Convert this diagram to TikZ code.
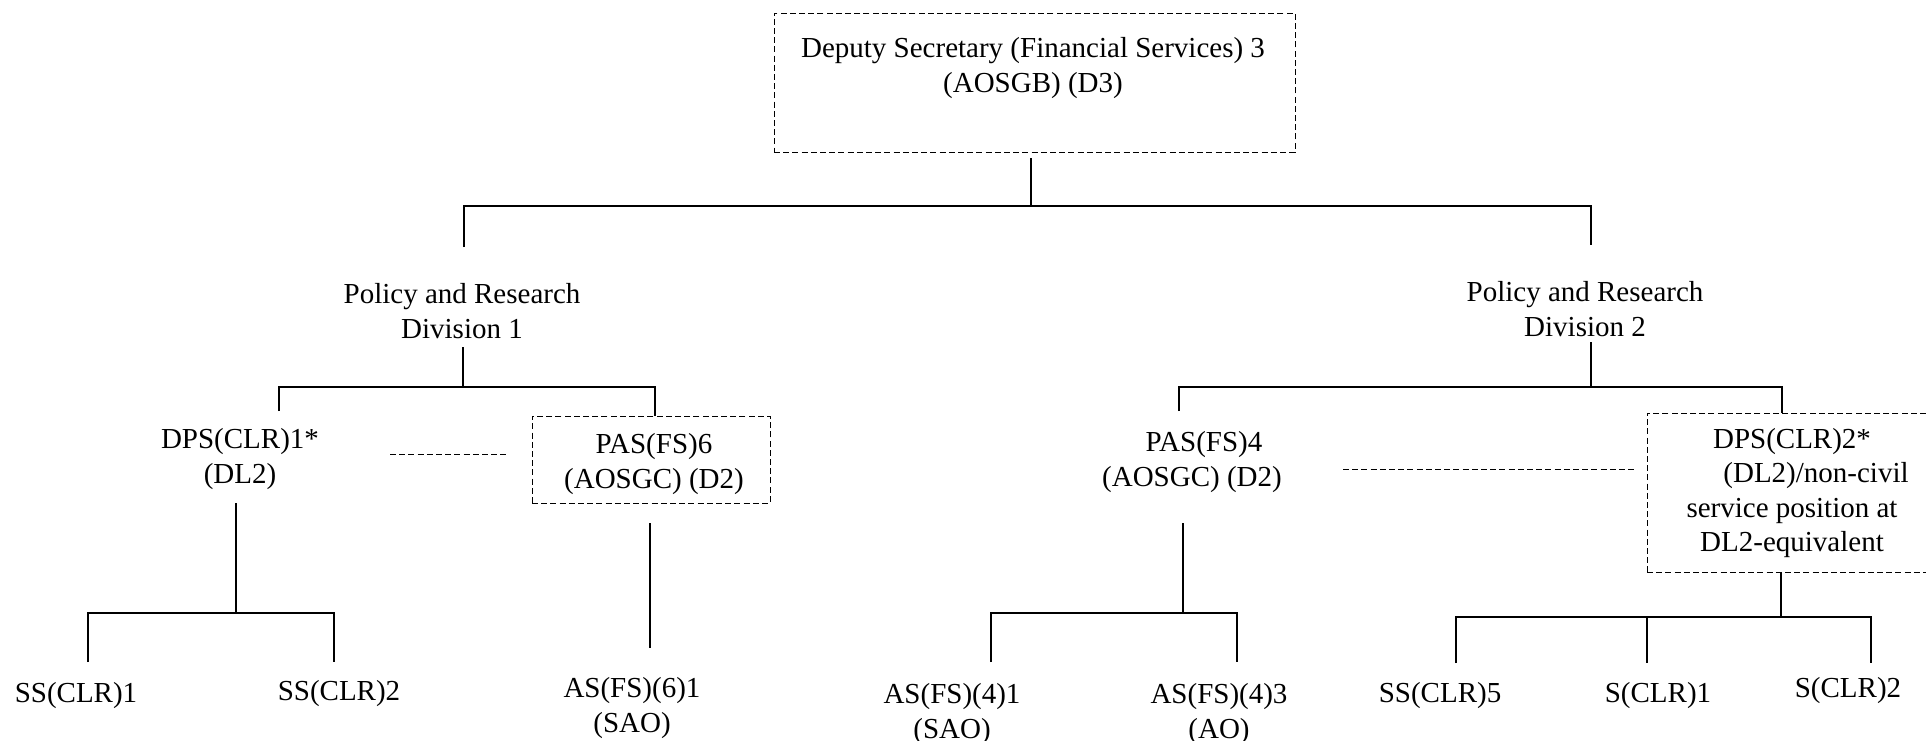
\documentclass[tikz,border=0pt]{standalone}
\usepackage{fontspec}
\setmainfont{Liberation Serif}

\tikzset{every picture/.style={line width=1pt}}
\tikzset{
  txt/.style={align=center, inner sep=0pt},
  dashbox/.style={draw, line width=0.5pt, dash pattern=on 3pt off 1.6pt, inner sep=0pt},
  dashline/.style={line width=0.5pt, dash pattern=on 3pt off 1.6pt}
}

\begin{document}
\begin{tikzpicture}[x=0.5pt,y=0.5pt,yscale=-1,xscale=1,font=\fontsize{14.5}{17.25}\selectfont]
\useasboundingbox (0,0) rectangle (1926,740);
\clip (0,0) rectangle (1926,740);

% Boxes
\node [dashbox, minimum width=260.5pt, minimum height=69.5pt] (dsbox) at (1034.5,82.5) {};
\node [dashbox, minimum width=119pt, minimum height=43.5pt] (pasbox6) at (651,459.5) {};
\node [dashbox, minimum width=145pt, minimum height=79.5pt] (dpsbox2) at (1792,492.5) {};

% Text Node
\node [txt] (ds) at (1033,68) {Deputy Secretary (Financial Services) 3\\(AOSGB) (D3)};
% Text Node
\node [txt] (div1) at (462,311) {Policy and Research\\Division 1};
% Text Node
\node [txt] (div2) at (1585,309) {Policy and Research\\Division 2};
% Text Node
\node [txt] (dps1) at (240,459) {DPS(CLR)1*\\(DL2)};
% Text Node
\node [txt] (pas6) at (654,464) {PAS(FS)6\\(AOSGC) (D2)};
% Text Node
\node [txt] (pas4) at (1192,462) {\hspace*{12pt}PAS(FS)4\\(AOSGC) (D2)};
% Text Node
\node [txt] (dps2) at (1792,493) {DPS(CLR)2*\\\hspace*{24pt}(DL2)/non-civil\\service position at\\DL2-equivalent};
% Text Node
\node [txt, anchor=base] (ss1) at (76,702) {SS(CLR)1};
\node [txt, anchor=base] (ss2) at (339,700) {SS(CLR)2};
% Text Node
\node [txt] (as61) at (632,708) {AS(FS)(6)1\\(SAO)};
% Text Node
\node [txt] (as41) at (952,714) {AS(FS)(4)1\\(SAO)};
\node [txt] (as43) at (1219,714) {AS(FS)(4)3\\(AO)};
% Text Node
\node [txt, anchor=base] (ss5) at (1440,702) {SS(CLR)5};
\node [txt, anchor=base] (s1) at (1658,702) {S(CLR)1};
\node [txt, anchor=base] (s2) at (1848,697) {S(CLR)2};

% Junctions
\coordinate (dsout) at (1031,158);
\coordinate (topbar) at (1031,206);
\coordinate (div1in) at (464,247);
\coordinate (div2in) at (1591,245);
\coordinate (div1out) at (463,347);
\coordinate (div1bar) at (463,387);
\coordinate (dps1in) at (279,411);
\coordinate (pas6in) at (655,416);
\coordinate (div2out) at (1591,342);
\coordinate (div2bar) at (1591,387);
\coordinate (pas4in) at (1179,411);
\coordinate (dps2in) at (1782,413);
\coordinate (dps1out) at (236,503);
\coordinate (dps1bar) at (236,613);
\coordinate (ss1in) at (88,662);
\coordinate (ss2in) at (334,662);
\coordinate (pas6out) at (650,523);
\coordinate (as61in) at (650,648);
\coordinate (pas4out) at (1183,523);
\coordinate (pas4bar) at (1183,613);
\coordinate (as41in) at (991,662);
\coordinate (as43in) at (1237,662);
\coordinate (dps2out) at (1781,572);
\coordinate (dps2bar) at (1781,617);
\coordinate (ss5in) at (1456,663);
\coordinate (s1top) at (1647,617);
\coordinate (s1in) at (1647,663);
\coordinate (s2in) at (1871,663);
\coordinate (dash1a) at (390,454);
\coordinate (dash1b) at (508,454);
\coordinate (dash2a) at (1343,469);
\coordinate (dash2b) at (1637,469);

%Straight Lines
\draw (dsout) -- (topbar);
\draw (div1in) |- (topbar) -| (div2in);
%Straight Lines
\draw (div1out) -- (div1bar);
\draw (dps1in) |- (div1bar) -| (pas6in);
\draw (div2out) -- (div2bar);
\draw (pas4in) |- (div2bar) -| (dps2in);
%Straight Lines
\draw (dps1out) -- (dps1bar);
\draw (ss1in) |- (dps1bar) -| (ss2in);
\draw (pas6out) -- (as61in);
\draw (pas4out) -- (pas4bar);
\draw (as41in) |- (pas4bar) -| (as43in);
\draw (dps2out) -- (dps2bar);
\draw (ss5in) |- (dps2bar) -| (s2in);
\draw (s1top) -- (s1in);
%Dashed Lines
\draw [dashline] (dash1a) -- (dash1b);
\draw [dashline] (dash2a) -- (dash2b);

\end{tikzpicture}
\end{document}
